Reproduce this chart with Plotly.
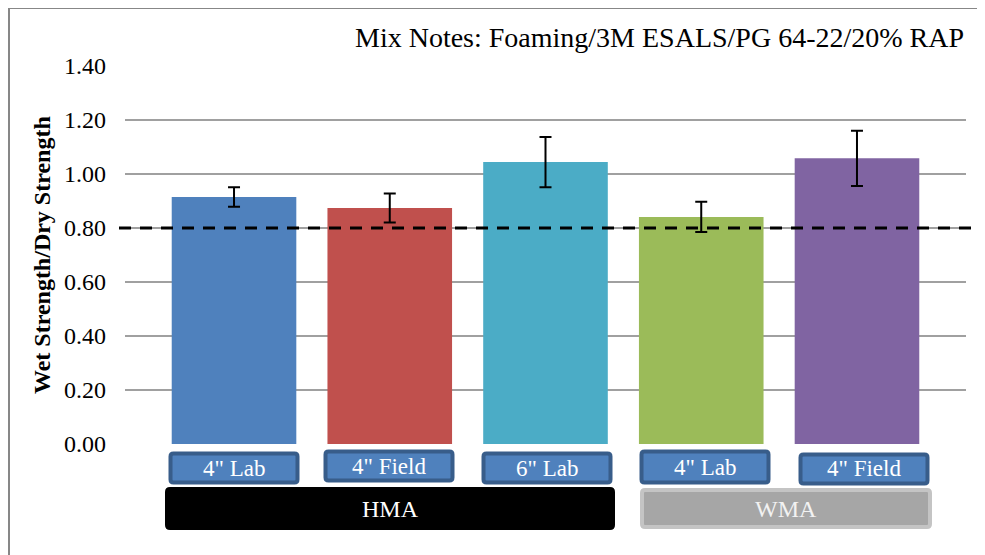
import plotly.graph_objects as go

# data
box_labels = ['4" Lab', '4" Field', '6" Lab', '4" Lab', '4" Field']
ratios = [0.915, 0.874, 1.044, 0.841, 1.058]
errors = [0.036, 0.054, 0.093, 0.056, 0.102]
bar_colors = ['#4F81BD', '#C0504D', '#4BACC6', '#9BBB59', '#8064A2']
groups = ['HMA', 'WMA']
threshold = 0.80
title_text = 'Mix Notes: Foaming/3M ESALS/PG 64-22/20% RAP'
y_ticks = [0.0, 0.2, 0.4, 0.6, 0.8, 1.0, 1.2, 1.4]

# the page body has an 8px margin, so the figure is drawn 8px smaller
OFF = 8
W, H = 985 - OFF, 555 - OFF
L, R, T, B = 125 - OFF, 19, 66 - OFF, 111
PW, PH = W - L - R, H - T - B
FONT = 'Liberation Serif, Times New Roman, serif'


def px(x):
    # screen pixel -> paper x
    return (x - OFF - L) / PW


def py(y):
    # screen pixel -> paper y
    return (H + OFF - B - y) / PH


def rounded(x0, y0, x1, y1, r=3):
    rx, ry = r / PW, r / PH
    a, b, c, d = px(x0), py(y1), px(x1), py(y0)
    return (f'M{a+rx},{b} L{c-rx},{b} Q{c},{b} {c},{b+ry} L{c},{d-ry} Q{c},{d} {c-rx},{d} '
            f'L{a+rx},{d} Q{a},{d} {a},{d-ry} L{a},{b+ry} Q{a},{b} {a+rx},{b} Z')


def label(x, y, text, size, color, **kw):
    d = dict(xref='paper', yref='paper', x=x, y=y, text=text, showarrow=False,
             xanchor='center', yanchor='middle',
             font=dict(family=FONT, size=size, color=color))
    d.update(kw)
    return d


fig = go.Figure()
fig.add_trace(go.Bar(
    x=list(range(len(ratios))), y=ratios, width=0.8,
    marker=dict(color=bar_colors, line=dict(width=0)),
    error_y=dict(type='data', array=errors, color='black', thickness=2, width=6),
    showlegend=False,
))

shapes = []
annotations = []

# outer chart border
shapes.append(dict(type='rect', xref='paper', yref='paper',
                   x0=px(9), x1=px(1000), y0=py(570), y1=py(8),
                   line=dict(color='#878787', width=2), layer='below'))

# threshold dashed line
shapes.append(dict(type='line', xref='paper', yref='y', x0=px(119), x1=px(976),
                   y0=threshold, y1=threshold,
                   line=dict(color='black', width=3, dash='12px,9px')))

# category label boxes
box_px = [(169, 452, 299, 484), (324, 450, 454, 482), (482, 452, 612, 484),
          (640, 450, 770, 484), (799, 453, 929, 485)]
for (x0, y0, x1, y1), lab in zip(box_px, box_labels):
    shapes.append(dict(type='path', xref='paper', yref='paper',
                       path=rounded(x0 + 1.5, y0 + 1.5, x1 - 1.5, y1 - 1.5),
                       fillcolor='#4F81BD', line=dict(color='#385D8A', width=4)))
    annotations.append(label(px((x0 + x1) / 2), py((y0 + y1) / 2), lab, 23, 'white'))

# group boxes
grp_px = [(165, 487, 615, 530, '#000000', '#000000', 'white'),
          (640, 488, 932, 529, '#A6A6A6', '#C4C4C4', '#F2F2F2')]
for g, (x0, y0, x1, y1, fill, edge, tc) in zip(groups, grp_px):
    shapes.append(dict(type='path', xref='paper', yref='paper',
                       path=rounded(x0 + 2, y0 + 2, x1 - 2, y1 - 2),
                       fillcolor=fill, line=dict(color=edge, width=4)))
    annotations.append(label(px((x0 + x1) / 2), py((y0 + y1) / 2), g, 24, tc))

# title
annotations.append(label(px(966), py(38), title_text, 28, 'black', xanchor='right'))

# y axis title
annotations.append(label(px(42), py(255), '<b>Wet Strength/Dry Strength</b>', 24, 'black',
                         textangle=-90))

fig.update_layout(
    width=W, height=H,
    margin=dict(l=L, r=R, t=T, b=B),
    paper_bgcolor='white', plot_bgcolor='white',
    shapes=shapes, annotations=annotations,
    xaxis=dict(range=[-0.7, 4.7], showticklabels=False, showgrid=False,
               zeroline=False, showline=False, fixedrange=True),
    yaxis=dict(range=[0, 1.4], tickvals=y_ticks, tickformat='.2f',
               showgrid=True, gridcolor='#A0A0A0', gridwidth=2,
               zeroline=False, showline=False, ticks='', ticklabelstandoff=18,
               tickfont=dict(family=FONT, size=24, color='black')),
)

fig.write_html("out.html")
